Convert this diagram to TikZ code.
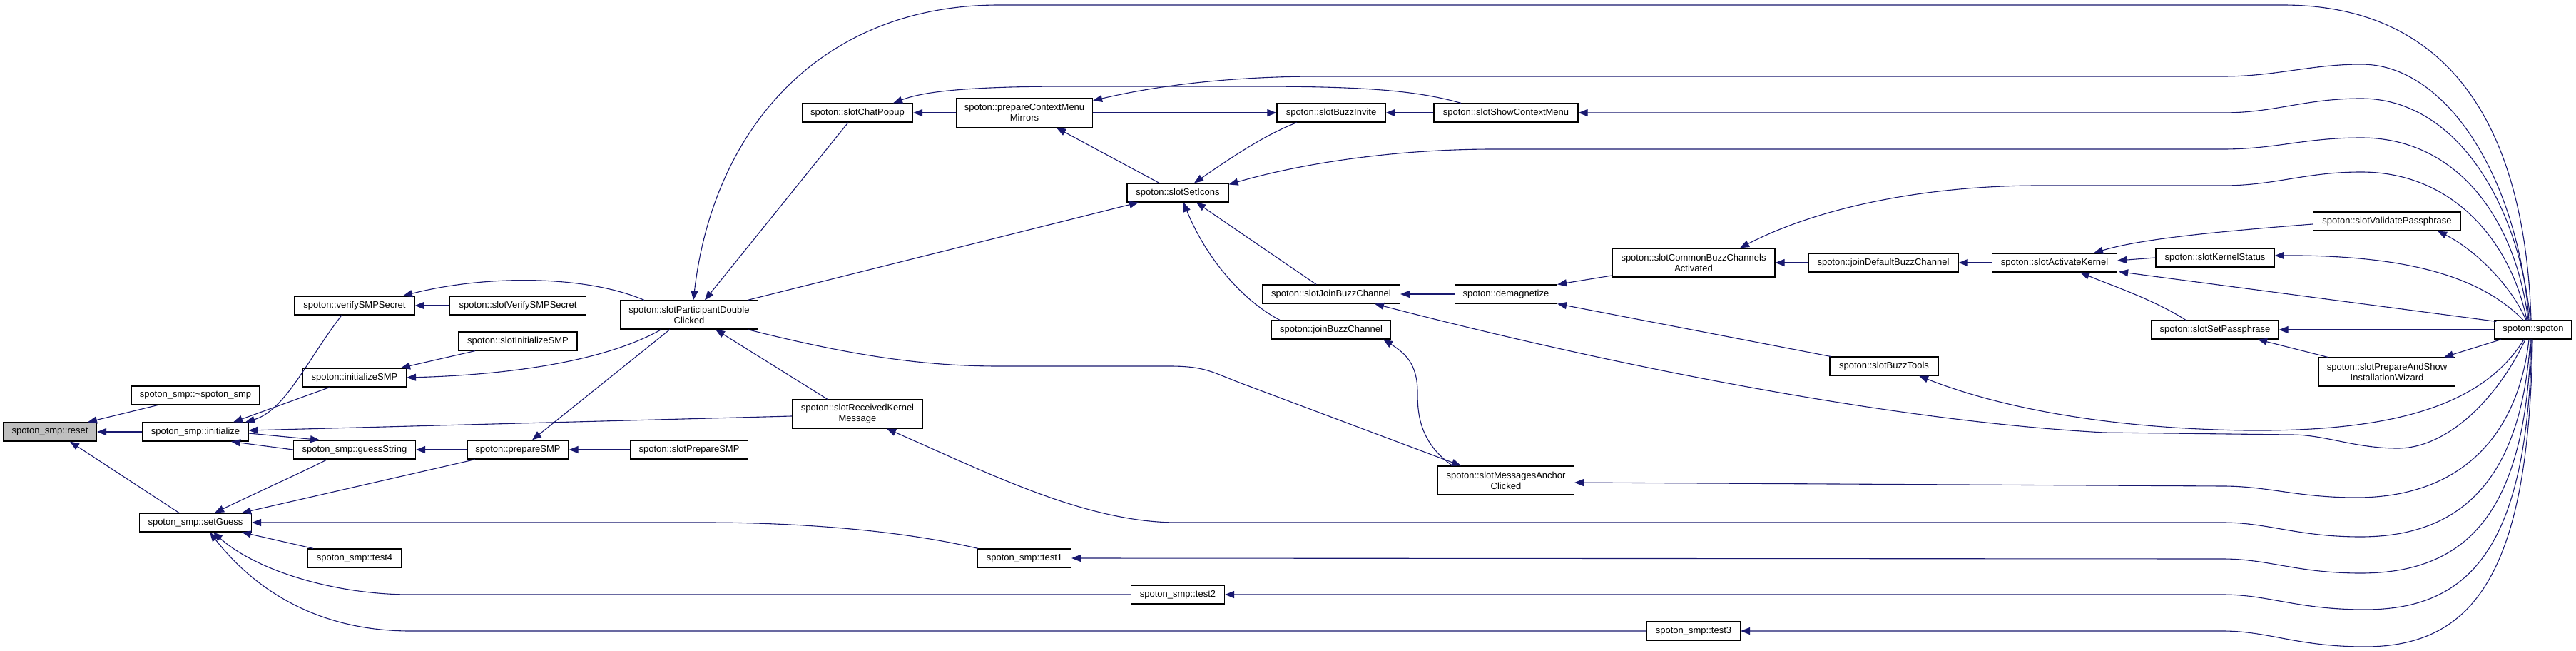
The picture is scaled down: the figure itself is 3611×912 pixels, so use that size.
\documentclass[tikz,border=0pt]{standalone}
\usepackage{fontspec}
\setmainfont{Liberation Sans}
\usetikzlibrary{arrows.meta}
\definecolor{mblue}{RGB}{25,25,112}
\definecolor{rootgray}{RGB}{191,191,191}
\begin{document}
\begin{tikzpicture}[x=1pt,y=-1pt,
  box/.style={draw=black, line width=1.2pt, fill=white, inner sep=0pt, minimum height=26pt, align=center, font=\fontsize{13}{15}\selectfont},
  box2/.style={box, minimum height=40pt},
  edge/.style={draw=mblue, line width=1.1pt, -{Triangle[length=13pt,width=10pt]}},
]
\path[use as bounding box, fill=white] (0,0) rectangle (3611,912);

% nodes
\node[box, fill=rootgray, minimum width=131pt] (reset) at (70,605) {spoton\_smp::reset};
\node[box, minimum width=180pt] (dtor) at (274,554) {spoton\_smp::\textasciitilde spoton\_smp};
\node[box, minimum width=148pt] (init) at (274,605) {spoton\_smp::initialize};
\node[box, minimum width=157pt] (setguess) at (274,732) {spoton\_smp::setGuess};
\node[box, minimum width=168pt] (verify) at (497,428) {spoton::verifySMPSecret};
\node[box, minimum width=145pt] (initsmp) at (497,529) {spoton::initializeSMP};
\node[box, minimum width=171pt] (guess) at (497,630) {spoton\_smp::guessString};
\node[box, minimum width=131pt] (test4) at (497,782) {spoton\_smp::test4};
\node[box, minimum width=191pt] (sverify) at (726,428) {spoton::slotVerifySMPSecret};
\node[box, minimum width=166pt] (sinitsmp) at (726,478) {spoton::slotInitializeSMP};
\node[box, minimum width=142pt] (prepsmp) at (726,630) {spoton::prepareSMP};
\node[box2, minimum width=193pt] (spdc) at (966,441) {spoton::slotParticipantDouble\\Clicked};
\node[box, minimum width=165pt] (sprepsmp) at (966,630) {spoton::slotPrepareSMP};
\node[box, minimum width=155pt] (chat) at (1202,158) {spoton::slotChatPopup};
\node[box2, minimum width=183pt] (srkm) at (1202,580) {spoton::slotReceivedKernel\\Message};
\node[box2, minimum width=191pt, minimum height=41pt] (pcmm) at (1436,158) {spoton::prepareContextMenu\\Mirrors};
\node[box, minimum width=131pt] (test1) at (1436,782) {spoton\_smp::test1};
\node[box, minimum width=142pt] (icons) at (1651,270) {spoton::slotSetIcons};
\node[box, minimum width=131pt] (test2) at (1651,833) {spoton\_smp::test2};
\node[box, minimum width=152pt] (invite) at (1866,158) {spoton::slotBuzzInvite};
\node[box, minimum width=193pt] (sjbc) at (1866,412) {spoton::slotJoinBuzzChannel};
\node[box, minimum width=167pt] (jbc) at (1866,462) {spoton::joinBuzzChannel};
\node[box, minimum width=202pt] (sscm) at (2111,158) {spoton::slotShowContextMenu};
\node[box, minimum width=143pt] (demag) at (2111,412) {spoton::demagnetize};
\node[box2, minimum width=191pt] (smac) at (2111,673) {spoton::slotMessagesAnchor\\Clicked};
\node[box2, minimum width=228pt] (scbca) at (2374,368) {spoton::slotCommonBuzzChannels\\Activated};
\node[box, minimum width=131pt] (test3) at (2374,884) {spoton\_smp::test3};
\node[box, minimum width=210pt] (jdbc) at (2640,368) {spoton::joinDefaultBuzzChannel};
\node[box, minimum width=152pt] (sbt) at (2641,513) {spoton::slotBuzzTools};
\node[box, minimum width=175pt] (sak) at (2880,368) {spoton::slotActivateKernel};
\node[box, minimum width=166pt] (sks) at (3105,361) {spoton::slotKernelStatus};
\node[box, minimum width=178pt] (ssp) at (3105,462) {spoton::slotSetPassphrase};
\node[box, minimum width=207pt] (svp) at (3346,310) {spoton::slotValidatePassphrase};
\node[box2, minimum width=191pt] (spasiw) at (3346,521) {spoton::slotPrepareAndShow\\InstallationWizard};
\node[box, minimum width=108pt] (spoton) at (3551,462) {spoton::spoton};

% edges, left part
\draw[edge] (init.west) -- (reset.east);
\draw[edge] ([xshift=-53pt]dtor.south) -- ([xshift=53pt]reset.north);
\draw[edge] ([xshift=-23pt]setguess.north) -- ([xshift=28pt]reset.south);
\draw[edge] ([xshift=-18pt]verify.south) .. controls (430,505) and (400,575) .. ([xshift=70pt]init.north);
\draw[edge] ([xshift=-35pt]initsmp.south) -- ([xshift=53pt]init.north);
\draw[edge] (guess.west) -- ([xshift=50pt]init.south);
\draw[edge] ([yshift=-2pt]init.east) -- ([xshift=-49pt]guess.north);
\draw[edge] ([yshift=-3pt]srkm.west) -- ([yshift=2pt]init.east);
\draw[edge] (sverify.west) -- (verify.east);
\draw[edge] ([xshift=-63pt]spdc.north) .. controls (820,385) and (680,385) .. ([xshift=68pt]verify.north);
\draw[edge] ([xshift=-60pt]sinitsmp.south) -- ([xshift=65pt]initsmp.north);
\draw[edge] ([xshift=-39pt]spdc.south) .. controls (850,505) and (720,525) .. (initsmp.east);
\draw[edge] (prepsmp.west) -- (guess.east);
\draw[edge] (sprepsmp.west) -- (prepsmp.east);
\draw[edge] ([xshift=-27pt]spdc.south) -- ([xshift=20pt]prepsmp.north);
\draw[edge] ([xshift=-38pt]guess.south) .. controls (420,663) and (360,690) .. ([xshift=27pt]setguess.north);
\draw[edge] ([xshift=-60pt]prepsmp.south) -- ([xshift=65pt]setguess.north);
\draw[edge] ([xshift=-65pt]test1.north) .. controls (1250,740) and (1100,732) .. (990,732) -- (setguess.east);
\draw[edge] ([xshift=-58pt]test4.north) -- ([xshift=65pt]setguess.south);
\draw[edge] (test2.west) -- (575,833) .. controls (470,833) and (360,800) .. ([xshift=25pt]setguess.south);
\draw[edge] (test3.west) -- (575,884) .. controls (450,884) and (360,830) .. ([xshift=20pt]setguess.south);

% middle part
\draw[edge] ([xshift=-3pt]spoton.north) .. controls (3540,200) and (3450,7) .. (3200,7) -- (1400,7) .. controls (1150,7) and (1000,180) .. ([xshift=6pt]spdc.north);
\draw[edge] ([xshift=-13pt]chat.south) -- ([xshift=22pt]spdc.north);
\draw[edge] ([xshift=82pt]spdc.north) -- ([xshift=-55pt]icons.south);
\draw[edge] ([xshift=-42pt]srkm.north) -- ([xshift=37pt]spdc.south);
\draw[edge] ([xshift=82pt]spdc.south) .. controls (1200,500) and (1300,513) .. (1400,513) -- (1640,513) .. controls (1690,513) and (1700,522) .. (1740,537) -- ([xshift=-63pt]smac.north);
\draw[edge] (pcmm.west) -- (chat.east);
\draw[edge] ([xshift=-63pt]sscm.north) .. controls (1980,125) and (1900,121) .. (1750,121) -- (1500,121) .. controls (1340,121) and (1290,130) .. ([xshift=50pt]chat.north);
\draw[edge] ([xshift=-6pt]spoton.north) .. controls (3530,250) and (3430,90) .. (3310,90) .. controls (3240,90) and (3190,107) .. (3116,107) -- (1850,107) .. controls (1700,107) and (1600,125) .. ([yshift=-4pt]pcmm.north east);
\draw[edge] ([xshift=-26pt]icons.north) -- ([xshift=45pt]pcmm.south);
\draw[edge] (pcmm.east) -- (invite.west);
\draw[edge] (sscm.west) -- (invite.east);
\draw[edge] ([xshift=-4pt]spoton.north) .. controls (3530,280) and (3440,138) .. (3310,138) .. controls (3230,138) and (3190,158) .. (3116,158) -- (sscm.east);
\draw[edge] ([xshift=-48pt]invite.south) .. controls (1770,190) and (1720,225) .. ([xshift=23pt]icons.north);
\draw[edge] ([xshift=-7pt]spoton.north) .. controls (3525,300) and (3440,193) .. (3310,193) .. controls (3230,193) and (3190,209) .. (3116,209) -- (2094,209) .. controls (1950,209) and (1820,230) .. ([yshift=-2pt]icons.north east);
\draw[edge] ([xshift=-21pt]sjbc.north) -- ([xshift=26pt]icons.south);
\draw[edge] ([xshift=-72pt]jbc.north) .. controls (1740,420) and (1690,360) .. ([xshift=8pt]icons.south);
\draw[edge] (demag.west) -- (sjbc.east);
\draw[edge] ([yshift=-18pt]scbca.west) -- (demag.north east);
\draw[edge] ([xshift=-75pt]sbt.north) -- (demag.south east);
\draw[edge] ([xshift=-11pt]spoton.south) .. controls (3500,560) and (3430,628) .. (3361,628) .. controls (3300,628) and (3260,609) .. (3212,609) -- (2950,606) .. controls (2650,590) and (2250,510) .. ([xshift=61pt]sjbc.south);
\draw[edge] ([xshift=-9pt]spoton.north) .. controls (3520,340) and (3440,241) .. (3310,241) .. controls (3230,241) and (3190,260) .. (3116,260) -- (2858,260) .. controls (2700,260) and (2550,290) .. ([xshift=65pt]scbca.north);
\draw[edge] (jdbc.west) -- (scbca.east);
\draw[edge] ([xshift=-75pt]smac.north) .. controls (1990,620) and (1987,580) .. (1987,550) .. controls (1987,510) and (1970,495) .. ([xshift=73pt]jbc.south);

% right part
\draw[edge] (sak.west) -- (jdbc.east);
\draw[edge] (sks.west) -- ([yshift=3pt]sak.east);
\draw[edge] ([yshift=-4pt]svp.west) .. controls (3100,325) and (3000,335) .. ([xshift=55pt]sak.north);
\draw[edge] ([xshift=3pt,yshift=-2pt]spoton.north west) -- ([xshift=2pt,yshift=1pt]sak.south east);
\draw[edge] ([xshift=-41pt]ssp.north) .. controls (3020,420) and (2960,400) .. ([xshift=36pt]sak.south);
\draw[edge] ([xshift=-14pt]spoton.north) .. controls (3480,390) and (3380,357) .. ([yshift=3pt]sks.east);
\draw[edge] ([xshift=-10pt]spoton.north) .. controls (3520,400) and (3470,350) .. ([xshift=71pt]svp.south);
\draw[edge] (spoton.west) -- (ssp.east);
\draw[edge] ([xshift=-45pt]spoton.south) -- ([xshift=80pt]spasiw.north);
\draw[edge] ([xshift=-83pt]spasiw.north) -- ([xshift=60pt]ssp.south);
\draw[edge] ([xshift=-13pt]spoton.south) .. controls (3480,570) and (3350,605) .. (3148,603) .. controls (2950,600) and (2800,570) .. ([xshift=49pt]sbt.south);
\draw[edge] ([xshift=-6pt]spoton.south) .. controls (3530,610) and (3450,697) .. (3303,697) .. controls (3220,697) and (3180,681) .. (3116,681) -- ([yshift=-3pt]smac.east);
\draw[edge] ([xshift=-4pt]spoton.south) .. controls (3535,660) and (3460,752) .. (3309,752) .. controls (3220,752) and (3180,732) .. (3116,732) -- (1650,732) .. controls (1520,732) and (1380,660) .. ([xshift=41pt]srkm.south);
\draw[edge] ([xshift=-3pt]spoton.south) .. controls (3540,710) and (3465,803) .. (3309,803) .. controls (3220,803) and (3180,783) .. (3116,783) -- (test1.east);
\draw[edge] ([xshift=-2pt]spoton.south) .. controls (3543,760) and (3468,854) .. (3315,854) .. controls (3220,854) and (3180,833) .. (3116,833) -- (test2.east);
\draw[edge] ([xshift=-1pt]spoton.south) .. controls (3545,800) and (3470,906) .. (3315,906) .. controls (3220,906) and (3180,884) .. (3116,884) -- (test3.east);
\end{tikzpicture}
\end{document}
